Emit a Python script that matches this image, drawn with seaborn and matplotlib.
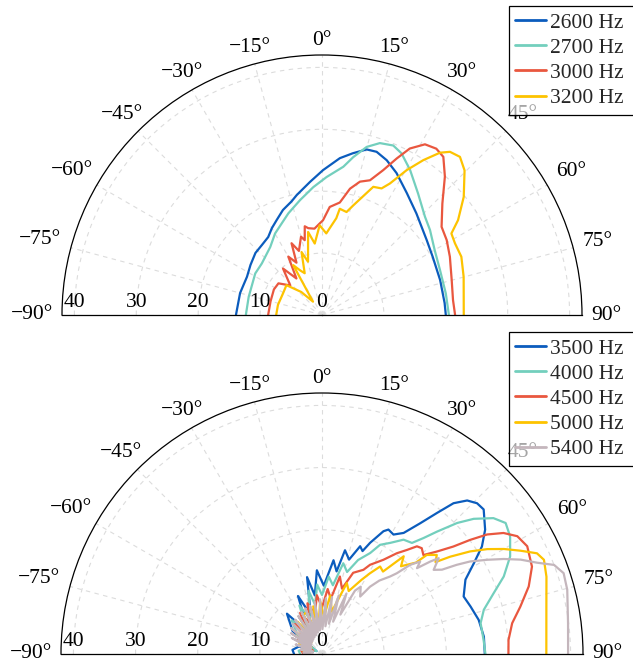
import numpy as np
import pandas as pd
import matplotlib
matplotlib.use("Agg")
import matplotlib.pyplot as plt
import matplotlib.transforms as mtransforms
import seaborn as sns

# ---------------- data (angle in degrees, level) ----------------
theta_ticks = [-90, -75, -60, -45, -30, -15, 0, 15, 30, 45, 60, 75, 90]
r_ticks = [0, 10, 20, 30, 40]
R_MAX = 42

top_labels = ["2600 Hz", "2700 Hz", "3000 Hz", "3200 Hz"]
bottom_labels = ["3500 Hz", "4000 Hz", "4500 Hz", "5000 Hz", "5400 Hz"]

theta_2600 = [-90, -75, -63, -55, -47, -40.7, -34.6, -30, -25.5, -20.4, -15, -11.9, -5.1, 0.4, 6.5,
              10.8, 15.1, 18.5, 22.7, 27.7, 34.8, 42.9, 54.4, 62.3, 73.5, 84.4, 90]
r_2600 = [13.9, 13.7, 13.6, 14.1, 14.7, 14.9, 15.3, 16.2, 17.0, 18.1, 19.0, 19.8, 21.6, 23.4, 25.5,
          26.6, 27.7, 27.8, 27.1, 25.9, 24.0, 22.4, 20.8, 20.2, 19.9, 19.9, 20.0]

theta_2700 = [-90, -76.1, -58.1, -49.4, -37.3, -29.9, -18.3, -10.8, -3.9, 1.9, 8.2, 11.2, 14.9, 18.6,
              22.8, 26.2, 31.3, 38.4, 46.3, 51.8, 60.1, 69.1, 80.1, 90]
r_2700 = [12.3, 12.2, 12.7, 12.8, 13.8, 15.2, 17.3, 18.9, 20.7, 22.3, 24.2, 26.0, 28.1, 29.3,
          29.7, 29.1, 27.4, 25.0, 23.0, 22.2, 21.0, 20.4, 20.3, 20.5]

theta_3000 = [-90, -75, -62, -54, -47, -40, -35, -30, -26, -23, -19.8, -15, -13, -11, -9, -5, -1.4,
              0.6, 4.1, 9, 12.5, 15.9, 19.6, 22.9, 25.5, 27.8, 31.1, 34.5, 37.5, 41.6, 47.2, 53.6,
              59.0, 65.5, 74.9, 83.5, 90]
r_3000 = [8.7, 8.6, 8.8, 8.7, 7.0, 9.8, 7.2, 10.9, 9.4, 12.6, 11.0, 13.1, 12.4, 14.6, 14.2, 14.0, 14.8,
          15.3, 17.5, 18.4, 20.9, 22.4, 23.1, 25.4, 28.0, 30.4, 32.2, 32.6, 32.2, 29.9, 26.5, 24.0,
          23.5, 22.7, 21.7, 21.3, 21.5]

theta_3200 = [-90, -77, -61, -50, -42, -34, -30, -26, -22.5, -18, -14.7, -9.5, -5.8, -1.5, 3.0, 8.4,
              9.5, 13.4, 15.9, 21.8, 25.2, 27.3, 30.3, 33.2, 36.0, 38.1, 41.1, 44.6, 50.2, 55.1, 57.8,
              61.7, 67.3, 74.9, 90]
r_3200 = [7.4, 7.3, 7.2, 7.5, 5.0, 2.6, 9.3, 8.0, 7.3, 10.7, 8.9, 13.6, 11.6, 14.5, 13.2, 15.8,
          17.4, 17.1, 18.4, 22.3, 22.6, 23.9, 27.1, 29.9, 32.4, 33.5, 33.9, 32.8, 29.8, 26.8, 24.7,
          24.4, 24.4, 23.7, 22.9]

theta_3500 = [-90, -82, -72, -62, -52, -41, -32, -22.5, -16, -11, -7, -3.5, 1.5, 7, 10, 12.5, 16,
              19.5, 21.5, 23.4, 26.6, 28.1, 30.9, 34.0, 36.9, 39.2, 41.1, 43.4, 45.8, 48.2, 52.7,
              56.1, 59.1, 62.6, 67.9, 72.3, 77.7, 83.9, 90]
r_3500 = [4.5, 4.8, 3.9, 1.0, 6.0, 8.6, 4.0, 10.1, 6.5, 12.6, 9.5, 13.5, 11.0, 15.2, 13.5, 17.1, 15.8,
          18.4, 17.8, 19.5, 22.1, 22.7, 22.4, 23.5, 26.3, 29.3, 32.2, 34.0, 34.8, 34.9, 33.0,
          31.0, 28.5, 26.0, 24.6, 25.1, 25.8, 26.2, 26.2]

theta_4000 = [-90, -82, -72, -62, -52, -42, -34, -25, -19, -12, -8, -4, 0, 5, 9, 13.2, 17, 21, 25.5,
              28.0, 31.6, 35.5, 39.0, 41.2, 43.2, 45.9, 48.3, 51.6, 54.5, 58.0, 62.6, 66.9, 70.5,
              74.7, 79.0, 85.0, 90]
r_4000 = [3.5, 3.8, 2.8, 1.0, 5.0, 7.3, 4.0, 8.6, 6.0, 10.4, 8.0, 11.2, 9.5, 12.5, 11.2, 15.0, 13.8,
          16.2, 18.0, 19.9, 21.0, 22.6, 23.0, 24.8, 27.0, 30.3, 32.7, 35.2, 36.3, 35.7, 34.1, 31.8,
          29.3, 27.0, 26.0, 26.1, 26.3]

theta_4500 = [-90, -80, -70, -60, -50, -42, -35, -28, -22, -16, -10, -5, 0, 5, 9, 13, 17, 21, 26.2,
              28.3, 33.1, 36.6, 39.2, 41.4, 43.3, 45.7, 48.3, 50.7, 52.4, 54.1, 56.3, 58.9, 62.3,
              67.4, 71.9, 76.6, 80.8, 85.7, 90]
r_4500 = [3.0, 3.4, 1.5, 4.5, 3.0, 6.5, 4.0, 7.5, 5.5, 8.5, 6.5, 9.5, 7.5, 10.5, 9.0, 12.8, 11.0,
          14.0, 15.1, 16.3, 18.1, 20.2, 21.6, 23.1, 23.4, 22.8, 24.8, 27.3, 30.1, 32.8, 35.1, 36.7,
          37.3, 36.6, 35.0, 32.8, 31.0, 30.1, 30.0]

theta_5000 = [-90, -82, -74, -66, -58, -50, -43, -37, -31, -25, -20.6, -15, -10.4, -6, -2, 3, 8, 13,
              19.3, 23, 28, 30.7, 33.6, 36.5, 39.9, 42, 45.8, 46.6, 49.2, 51, 52.8, 55.3, 57.6,
              60.0, 62.5, 64.9, 67.0, 71.0, 78.1, 90]
r_5000 = [2.5, 3.0, 2.0, 4.0, 2.0, 5.5, 2.5, 6.5, 3.0, 7.0, 7.2, 4.0, 7.8, 5.0, 8.5, 6.0, 9.5, 7.0,
          12.1, 11.0, 13.5, 15.1, 16.9, 16.5, 20.5, 19.0, 21.1, 23.2, 24.4, 23.5, 25.9, 29.0, 31.5,
          33.8, 36.0, 38.2, 38.8, 38.2, 36.9, 36.1]

theta_5400 = [-90, -86, -82, -78, -74, -70, -66, -62, -59, -56, -53, -50, -47, -44, -41, -38, -35,
              -32, -29, -26, -23, -20, -17, -14, -11, -8, -5, -2, 1, 4, 7, 10, 13, 16, 19, 22, 25,
              27.5, 29.9, 33.6, 35.5, 38, 41.3, 42.8, 44.7, 46.7, 47.9, 49.5, 50.6, 53, 54.9, 56.5,
              58.0, 60.3, 62.4, 64.6, 67.0, 69.0, 71.5, 75.3, 82.9, 90]
r_5400 = [2.0, 3.0, 1.5, 3.5, 1.5, 4.5, 2.0, 5.5, 2.0, 6.0, 2.2, 6.5, 2.3, 6.8, 2.5, 7.0, 2.6,
          7.2, 2.8, 7.5, 3.0, 7.8, 3.2, 8.0, 3.5, 8.5, 3.8, 8.8, 4.0, 9.0, 4.5, 9.3, 5.0, 9.8, 5.5,
          10.5, 7.0, 11.5, 12.5, 11.1, 13.3, 15.0, 16.6, 17.7, 20.2, 21.7, 20.6, 22.9, 24.3, 22.5,
          23.6, 26.0, 28.1, 30.6, 33.0, 35.4, 37.6, 40.0, 41.0, 40.8, 39.9, 39.6]

top_colors = ["#0b5cbd", "#73cfbd", "#e9573f", "#fdc300"]
bottom_colors = ["#0b5cbd", "#73cfbd", "#e9573f", "#fdc300", "#c4b6bc"]


def frame(labels, thetas, rs):
    parts = []
    for lab, th, r in zip(labels, thetas, rs):
        parts.append(pd.DataFrame({"theta": np.deg2rad(th), "r": r, "freq": lab}))
    return pd.concat(parts, ignore_index=True)


df_top = frame(top_labels, [theta_2600, theta_2700, theta_3000, theta_3200],
               [r_2600, r_2700, r_3000, r_3200])
df_bot = frame(bottom_labels, [theta_3500, theta_4000, theta_4500, theta_5000, theta_5400],
               [r_3500, r_4000, r_4500, r_5000, r_5400])

# ---------------- style ----------------
sns.set_theme(style="white")
plt.rcParams["font.family"] = ["Liberation Serif", "DejaVu Serif"]
plt.rcParams["axes.unicode_minus"] = True
FS = 15.5

W, H = 633, 667
fig = plt.figure(figsize=(W / 100, H / 100), dpi=100)
fig.patch.set_facecolor("white")

theta_texts = []


def setup(ax):
    ax.set_theta_zero_location("N")
    ax.set_theta_direction(-1)
    ax.set_thetamin(-90)
    ax.set_thetamax(90)
    ax.set_rlim(0, R_MAX)
    ax.set_xticks(np.deg2rad(theta_ticks))
    ax.set_xticklabels([])
    ax.set_yticks(r_ticks)
    ax.set_yticklabels([])
    ax.set_rlabel_position(-90)
    ax.grid(True, color="#dcdcdc", linestyle=(0, (4, 4)), linewidth=0.8)
    for s in ax.spines.values():
        s.set_color("black")
        s.set_linewidth(0.9)
    ax.tick_params(axis="x", direction="inout", length=5, color="#555555", width=0.6)
    ax.tick_params(axis="y", direction="in", length=4, color="#999999", width=0.6)
    off = mtransforms.offset_copy(ax.transData, fig=fig, x=0, y=3, units="dots")
    for v in r_ticks:
        ax.text(np.deg2rad(-90), v, str(v), transform=off, ha="center", va="bottom",
                fontsize=FS, color="black", zorder=1)
    for t in theta_ticks:
        lab = (f"{t}°").replace("-", "\u2212")
        txt = ax.annotate(lab, xy=(np.deg2rad(t), R_MAX), xycoords="data", xytext=(0, 0),
                          textcoords="offset pixels", ha="center", va="center",
                          fontsize=FS, color="black", annotation_clip=False, zorder=3)
        theta_texts.append((txt, t))
    ax.set_xlabel("")
    ax.set_ylabel("")


def draw(ax, df, labels, colors, legend_top_px):
    sns.lineplot(data=df, x="theta", y="r", hue="freq", hue_order=labels, palette=colors,
                 sort=False, estimator=None, linewidth=1.6, ax=ax)
    setup(ax)
    h, l = ax.get_legend_handles_labels()
    leg = ax.legend(h, l, loc="upper left",
                    bbox_to_anchor=(509 / W, 1 - legend_top_px / H, 135 / W, 0),
                    bbox_transform=fig.transFigure, mode="expand", fontsize=FS, frameon=True,
                    borderaxespad=0, borderpad=0.3, labelspacing=0.24,
                    handlelength=1.4, handletextpad=0.2, fancybox=False)
    fr = leg.get_frame()
    fr.set_alpha(None)
    fr.set_facecolor((1, 1, 1, 0.65))
    fr.set_edgecolor("black")
    fr.set_linewidth(0.9)
    for ln in leg.get_lines():
        ln.set_linewidth(2.0)
    leg.set_zorder(10)


# polar wedge is fitted into a square box; place squares so the half-disks land right
ax1 = fig.add_axes([62 / W, 1 - 445 / H, 520 / W, 520 / H], projection="polar")
draw(ax1, df_top, top_labels, top_colors, 6)

ax2 = fig.add_axes([61 / W, 1 - 784.5 / H, 522 / W, 522 / H], projection="polar")
draw(ax2, df_bot, bottom_labels, bottom_colors, 332)

# place angle labels outside the arc, anchored by their border facing the arc
fig.canvas.draw()
renderer = fig.canvas.get_renderer()
for txt, t in theta_texts:
    bb = txt.get_window_extent(renderer)
    ux, uy = np.sin(np.deg2rad(t)), np.cos(np.deg2rad(t))
    cand = []
    if abs(ux) > 1e-6:
        cand.append(bb.width / 2 / abs(ux))
    if abs(uy) > 1e-6:
        cand.append(bb.height / 2 / abs(uy))
    d = min(cand)
    gap = 9 * abs(ux) + 5 * abs(uy)
    txt.xyann = ((d + gap) * ux, (d + gap) * uy)

fig.savefig("out.png", dpi=100, facecolor="white")
